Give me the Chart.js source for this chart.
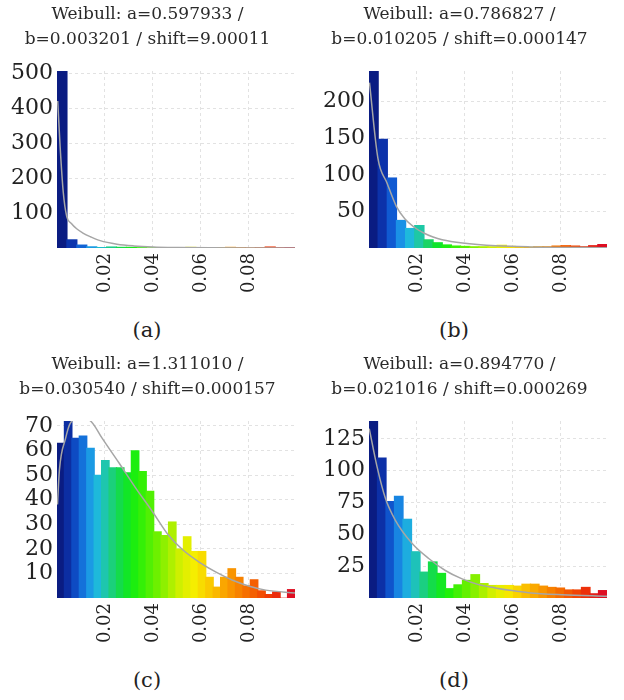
<!DOCTYPE html>
<html lang="en">
<head>
<meta charset="UTF-8">
<title>Weibull fits</title>
<style>
    body {
        margin: 0;
        background: #ffffff;
    }
    .panel {
        position: absolute;
        width: 312px;
        height: 300px;
    }
    .caption {
        position: absolute;
        width: 80px;
        text-align: center;
        font-family: 'DejaVu Serif', serif;
        font-size: 21px;
        line-height: 24px;
        color: #222;
    }
</style>
</head>
<body>
<div class="panel" style="left:0;top:0"><canvas id="chartA" width="312" height="300"></canvas></div>
<div class="panel" style="left:312px;top:0"><canvas id="chartB" width="312" height="300"></canvas></div>
<div class="panel" style="left:0;top:350px"><canvas id="chartC" width="312" height="300"></canvas></div>
<div class="panel" style="left:312px;top:350px"><canvas id="chartD" width="312" height="300"></canvas></div>
<div class="caption" style="left:107px;top:318px">(a)</div>
<div class="caption" style="left:414px;top:318px">(b)</div>
<div class="caption" style="left:107px;top:668px">(c)</div>
<div class="caption" style="left:414px;top:668px">(d)</div>

<script src="https://cdn.jsdelivr.net/npm/chart.js"></script>
<script>
    // histogram counts, one value per bin
    const countsA = [506, 24, 9, 4, 2, 3.5, 2.5, 2.5, 1.5, 1, 1, 1, 1.5, 2.5, 1.5, 1, 2, 2.5, 1.5, 1, 1.5, 3.5, 1.5, 2];
    const countsB = [242, 149, 96, 38, 27, 31, 11.5, 7.5, 4.5, 3, 2.5, 2, 2, 2, 4, 2.5, 2, 1.5, 2, 2, 3, 3.5, 3, 2, 3.5, 5];
    const countsC = [63, 72, 65, 66, 61, 50, 56, 53, 53, 51, 60, 51.5, 43.5, 27, 25.5, 31, 20, 25, 19, 19, 8.5, 4.5, 8.5, 12, 8.5, 5, 7.5, 3, 1.5, 2.5, 0, 3.5];
    const countsD = [139, 110, 76, 80, 62, 36.5, 20.5, 28.5, 19.5, 7.5, 10.5, 14, 18.5, 11.5, 10, 10, 10, 9.5, 11, 11, 9.5, 8.5, 8, 6.5, 6.5, 8.5, 3.5, 6];

    // fitted Weibull curves (x, y)
    const curveXA = [0.0003, 0.0013, 0.0026, 0.004, 0.006, 0.0082, 0.011, 0.014, 0.018, 0.025, 0.032, 0.04, 0.05, 0.065, 0.08, 0.0992];
    const curveYA = [420, 290, 160, 92, 70, 55, 42, 32, 21, 11, 6, 3, 1.5, 0.6, 0.3, 0.1];
    const curveXB = [0.0002, 0.0037, 0.0075, 0.0114, 0.015, 0.019, 0.0228, 0.0267, 0.0305, 0.039, 0.053, 0.067, 0.0992];
    const curveYB = [226, 123, 89, 57, 39.5, 28, 20.5, 15, 11.3, 6.8, 3, 1.5, 0.5];
    const curveXC = [0.0002, 0.001, 0.0036, 0.0055, 0.0102, 0.0145, 0.0188, 0.0258, 0.0326, 0.0396, 0.0465, 0.0525, 0.0594, 0.0663, 0.0732, 0.0802, 0.087, 0.0992];
    const curveYC = [38, 52, 65, 71, 73.5, 71.5, 65, 55, 45, 35.4, 25.5, 19.5, 14.5, 10.5, 7.2, 4.8, 3.2, 2];
    const curveXD = [0.0001, 0.0033, 0.0068, 0.011, 0.0179, 0.0249, 0.0318, 0.0388, 0.0457, 0.0526, 0.0596, 0.0665, 0.0804, 0.0992];
    const curveYD = [133, 103.5, 78.5, 61, 43, 31, 21.6, 15, 10.5, 7.9, 5.8, 4.2, 2.6, 1.3];

    // axis ticks
    const xTicks = [0.02, 0.04, 0.06, 0.08];
    const yTicksA = [100, 200, 300, 400, 500];
    const yTicksB = [50, 100, 150, 200];
    const yTicksC = [10, 20, 30, 40, 50, 60, 70];
    const yTicksD = [25, 50, 75, 100, 125];

    const titleA = ['Weibull: a=0.597933 /', 'b=0.003201 / shift=9.00011'];
    const titleB = ['Weibull: a=0.786827 /', 'b=0.010205 / shift=0.000147'];
    const titleC = ['Weibull: a=1.311010 /', 'b=0.030540 / shift=0.000157'];
    const titleD = ['Weibull: a=0.894770 /', 'b=0.021016 / shift=0.000269'];

    const X_MAX = 0.0992;   // histogram range is 0 .. X_MAX, split into equal bins
    const AXIS_W = 57, PAD_R = 17, PLOT_W = 312 - AXIS_W - PAD_R;

    Chart.defaults.font.family = "'DejaVu Serif', serif";
    Chart.defaults.color = '#222';

    // rainbow colour map, t in [0,1]
    const stops = [
        [0.00, 10, 28, 130], [0.04, 12, 50, 170], [0.08, 16, 90, 210], [0.12, 26, 145, 230],
        [0.16, 30, 185, 220], [0.20, 30, 200, 165], [0.24, 25, 212, 100], [0.28, 15, 228, 45],
        [0.33, 30, 240, 10], [0.42, 110, 240, 0], [0.52, 210, 240, 0], [0.58, 245, 238, 0],
        [0.64, 250, 205, 0], [0.72, 250, 160, 0], [0.82, 245, 105, 0], [0.91, 240, 55, 5],
        [1.00, 222, 15, 35]
    ];
    function rainbow(t) {
        for (let i = 1; i < stops.length; i++) {
            if (t <= stops[i][0]) {
                const a = stops[i - 1], b = stops[i];
                const f = (t - a[0]) / (b[0] - a[0]);
                const c = [1, 2, 3].map(k => Math.round(a[k] + (b[k] - a[k]) * f));
                return 'rgb(' + c.join(',') + ')';
            }
        }
        return 'rgb(222,15,35)';
    }

    const gridStyle = { color: '#e2e2e2', drawTicks: false, lineWidth: 1, offset: false };
    const borderStyle = { display: false, dash: [3, 3] };

    function makeChart(id, title, counts, yTicks, yMax, curveX, curveY) {
        const n = counts.length;
        const binW = X_MAX / n;
        return new Chart(document.getElementById(id), {
            type: 'bar',
            data: {
                datasets: [{
                    type: 'line',
                    data: curveX.map((x, i) => ({ x: x, y: curveY[i] })),
                    borderColor: '#a6a6a6',
                    borderWidth: 1.5,
                    pointRadius: 0,
                    cubicInterpolationMode: 'monotone',
                    fill: false
                }, {
                    type: 'bar',
                    // each bar sits at the middle of its bin
                    data: counts.map((c, i) => ({ x: (i + 0.5) * binW, y: c })),
                    backgroundColor: ctx => rainbow(ctx.dataIndex / (n - 1)),
                    borderWidth: 0,
                    barThickness: PLOT_W / n + 0.6
                }]
            },
            options: {
                responsive: false,
                animation: false,
                layout: { padding: { left: 0, right: PAD_R, top: 0, bottom: 0 } },
                plugins: {
                    legend: { display: false },
                    tooltip: { enabled: false },
                    title: {
                        display: true,
                        text: title,
                        color: '#2a2a2a',
                        font: { size: 17, weight: 'normal', lineHeight: 1.47 },
                        padding: { top: 2, bottom: 19 }
                    }
                },
                scales: {
                    x: {
                        type: 'linear',
                        position: 'bottom',
                        offset: false,
                        min: 0,
                        max: X_MAX,
                        afterBuildTicks: s => { s.ticks = xTicks.map(v => ({ value: v })); },
                        afterFit: s => { s.height = 52; },
                        ticks: {
                            autoSkip: false,
                            minRotation: 90,
                            maxRotation: 90,
                            padding: 5,
                            color: '#222',
                            font: { size: 18 },
                            callback: v => v.toFixed(2)
                        },
                        grid: gridStyle,
                        border: borderStyle
                    },
                    y: {
                        min: 0,
                        max: yMax,
                        afterBuildTicks: s => { s.ticks = yTicks.map(v => ({ value: v })); },
                        afterFit: s => { s.width = AXIS_W; },
                        ticks: {
                            autoSkip: false,
                            padding: 4,
                            color: '#222',
                            font: { size: 22 }
                        },
                        grid: gridStyle,
                        border: borderStyle
                    }
                }
            }
        });
    }

    makeChart('chartA', titleA, countsA, yTicksA, 506, curveXA, curveYA);
    makeChart('chartB', titleB, countsB, yTicksB, 242, curveXB, curveYB);
    makeChart('chartC', titleC, countsC, yTicksC, 72, curveXC, curveYC);
    makeChart('chartD', titleD, countsD, yTicksD, 139, curveXD, curveYD);
</script>
</body>
</html>
